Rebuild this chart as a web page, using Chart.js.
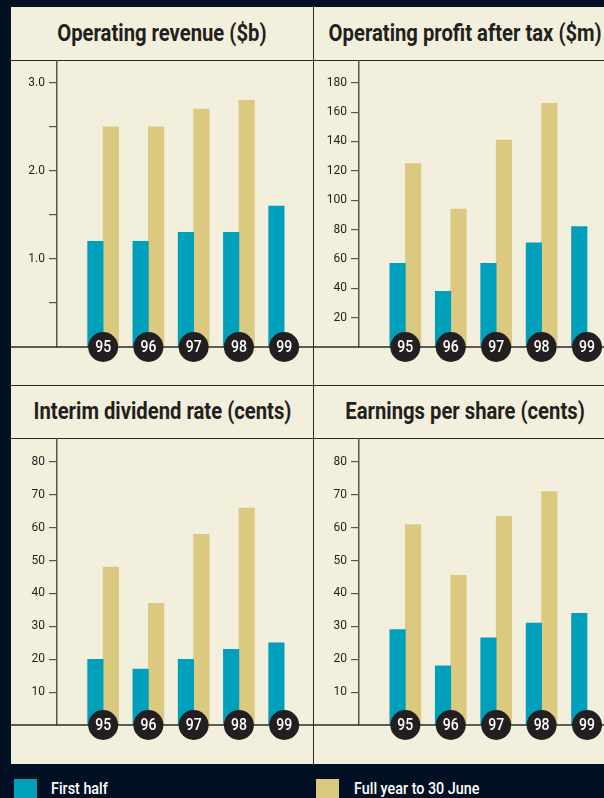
<!DOCTYPE html>
<html>
<head>
<meta charset="utf-8">
<script src="https://cdn.jsdelivr.net/npm/chart.js@4.4.1/dist/chart.umd.min.js"></script>
<style>
  html, body { margin: 0; padding: 0; }
  body { width: 604px; height: 798px; overflow: hidden; background: #011022; position: relative; font-family: Roboto, "Liberation Sans", sans-serif; }
  .panel { position: absolute; left: 11px; top: 7px; width: 605px; height: 757px; background: #f2efdc; }
  .hline, .vline { position: absolute; background: #2b2b2b; }
  .title { position: absolute; display: flex; align-items: center; justify-content: center; height: 53px; width: 302px; }
  .title span { display: inline-block; font-weight: 700; font-size: 23px; color: #231f20; transform: scaleX(0.88); white-space: nowrap; }
  canvas { position: absolute; }
  .sw { position: absolute; top: 779px; width: 23px; height: 25px; }
  .lg { position: absolute; top: 779px; color: #ffffff; font-size: 16.5px; font-weight: 500; transform: scaleX(0.87); transform-origin: left center; white-space: nowrap; line-height: 20px; }
</style>
</head>
<body>
<div class="panel"></div>
<div class="hline" style="left:11px; top:59.5px; width:605px; height:1.5px;"></div>
<div class="hline" style="left:11px; top:384.5px; width:605px; height:1.5px;"></div>
<div class="hline" style="left:11px; top:437.5px; width:605px; height:1.5px;"></div>

<div class="title" style="left:11px; top:7px;"><span id="t1"></span></div>
<div class="title" style="left:314px; top:7px;"><span id="t2"></span></div>
<div class="title" style="left:11px; top:385px;"><span id="t3"></span></div>
<div class="title" style="left:314px; top:385px;"><span id="t4"></span></div>

<canvas id="c1" width="302" height="325" style="left:11px; top:60px;"></canvas>
<canvas id="c2" width="302" height="325" style="left:314px; top:60px;"></canvas>
<canvas id="c3" width="302" height="326" style="left:11px; top:438px;"></canvas>
<canvas id="c4" width="302" height="326" style="left:314px; top:438px;"></canvas>

<div class="vline" style="left:312.75px; top:7px; width:1.5px; height:757px;"></div>

<div class="sw" style="left:14px; background:#009fbb;"></div>
<div class="lg" id="lg1" style="left:51px;"></div>
<div class="sw" style="left:316px; background:#dbc980;"></div>
<div class="lg" id="lg2" style="left:354px;"></div>

<script>
// ---- data ----
const categories = ['95', '96', '97', '98', '99'];
const seriesNames = ['First half', 'Full year to 30 June'];
const chartTitles = ['Operating revenue ($b)', 'Operating profit after tax ($m)', 'Interim dividend rate (cents)', 'Earnings per share (cents)'];

const revenueFirstHalf = [1.2, 1.2, 1.3, 1.3, 1.6];
const revenueFullYear  = [2.5, 2.5, 2.7, 2.8, null];
const profitFirstHalf  = [57, 38, 57, 71, 82];
const profitFullYear   = [125, 94, 141, 166, null];
const dividendFirstHalf = [20, 17, 20, 23, 25];
const dividendFullYear  = [48, 37, 58, 66, null];
const epsFirstHalf = [29, 18, 26.5, 31, 34];
const epsFullYear  = [61, 45.5, 63.5, 71, null];

const revenueTicks = [0.5, 1.0, 1.5, 2.0, 2.5, 3.0];
const revenueTickLabels = ['', '1.0', '', '2.0', '', '3.0'];
const profitTicks = [20, 40, 60, 80, 100, 120, 140, 160, 180];
const profitTickLabels = ['20', '40', '60', '80', '100', '120', '140', '160', '180'];
const centsTicks = [10, 20, 30, 40, 50, 60, 70, 80];
const centsTickLabels = ['10', '20', '30', '40', '50', '60', '70', '80'];

// ---- styling ----
const TEAL = '#009fbb';
const BEIGE = '#dbc980';
const INK = '#231f20';

document.getElementById('t1').textContent = chartTitles[0];
document.getElementById('t2').textContent = chartTitles[1];
document.getElementById('t3').textContent = chartTitles[2];
document.getElementById('t4').textContent = chartTitles[3];
document.getElementById('lg1').textContent = seriesNames[0];
document.getElementById('lg2').textContent = seriesNames[1];

const yearBadges = {
  id: 'yearBadges',
  afterDraw(chart) {
    const { ctx, chartArea, scales } = chart;
    const xs = scales.x;
    ctx.save();
    ctx.strokeStyle = '#2b2b2b';
    ctx.lineWidth = 1.5;
    ctx.beginPath();
    ctx.moveTo(0, chartArea.bottom);
    ctx.lineTo(chart.width, chartArea.bottom);
    ctx.stroke();
    categories.forEach(c => {
      const px = xs.getPixelForValue(Number(c));
      ctx.fillStyle = INK;
      ctx.beginPath();
      ctx.arc(px, chartArea.bottom, 15, 0, Math.PI * 2);
      ctx.fill();
      ctx.save();
      ctx.translate(px, chartArea.bottom + 1);
      ctx.scale(0.85, 1);
      ctx.fillStyle = '#ffffff';
      ctx.font = '500 16.5px Roboto';
      ctx.textAlign = 'center';
      ctx.textBaseline = 'middle';
      ctx.fillText(c, 0, 0);
      ctx.restore();
    });
    ctx.restore();
  }
};

function makeChart(id, first, full, ticks, tickLabels, yMax, axisWidth, bottomPad) {
  const toPts = arr => arr.map((v, i) => ({ x: Number(categories[i]), y: v }));
  return new Chart(document.getElementById(id), {
    type: 'bar',
    data: {
      datasets: [
        { label: seriesNames[0], data: toPts(first), backgroundColor: TEAL, borderWidth: 0, barThickness: 15.5 },
        { label: seriesNames[1], data: toPts(full), backgroundColor: BEIGE, borderWidth: 0, barThickness: 15.5 }
      ]
    },
    options: {
      responsive: false,
      animation: false,
      devicePixelRatio: 1,
      layout: { padding: { top: 0, left: 0, right: 0, bottom: bottomPad }, autoPadding: false },
      plugins: { legend: { display: false }, tooltip: { enabled: false } },
      scales: {
        x: {
          type: 'linear', display: false, offset: false, grid: { offset: false },
          min: 93.98, max: 93.98 + 256 / 45.25,
          afterBuildTicks: s => { s.ticks = categories.map(c => ({ value: Number(c) })); }
        },
        y: {
          type: 'linear', min: 0, max: yMax,
          afterBuildTicks: s => { s.ticks = ticks.map(v => ({ value: v })); },
          afterFit: s => { s.width = axisWidth; s.paddingTop = 0; s.paddingBottom = 0; },
          border: { color: '#555', width: 1.5 },
          grid: { drawOnChartArea: false, drawTicks: true, tickLength: 8, color: '#555', lineWidth: 1.2 },
          ticks: {
            color: INK, padding: 4, font: { family: 'Roboto', size: 12 },
            callback: (v, i) => tickLabels[i]
          }
        }
      }
    },
    plugins: [yearBadges]
  });
}

makeChart('c1', revenueFirstHalf, revenueFullYear, revenueTicks, revenueTickLabels, 3.257, 46, 38);
makeChart('c2', profitFirstHalf, profitFullYear, profitTicks, profitTickLabels, 195.5, 45, 38);
makeChart('c3', dividendFirstHalf, dividendFullYear, centsTicks, centsTickLabels, 87.3, 46, 39);
makeChart('c4', epsFirstHalf, epsFullYear, centsTicks, centsTickLabels, 87.3, 45, 39);
</script>
</body>
</html>
